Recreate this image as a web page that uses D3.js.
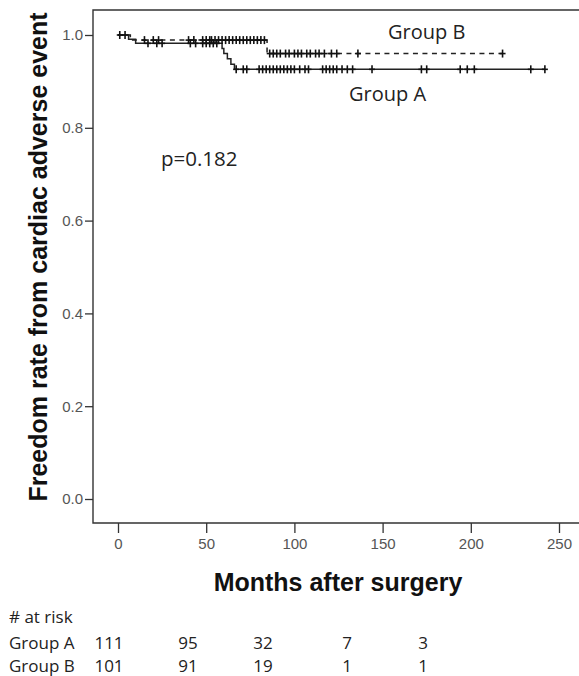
<!DOCTYPE html>
<html>
<head>
<meta charset="utf-8">
<script src="https://cdn.jsdelivr.net/npm/d3@7"></script>
<style>
  body { margin: 0; background: #fff; }
  svg { display: block; }
  .axis text { font-family: "Liberation Sans", Arial, sans-serif; font-size: 15px; fill: #555; }
  .axis line { stroke: #333; stroke-width: 1.3; }
  .lbl { font-family: "Open Sans", sans-serif; fill: #222; }
  .title { font-family: "Liberation Sans", Arial, sans-serif; font-weight: bold; font-size: 25px; fill: #111; }
</style>
</head>
<body>
<svg id="chart" width="579" height="676"></svg>
<script>
// Kaplan-Meier step values
const timesA = [0, 6, 10, 59, 60, 62, 64, 66];
const survA  = [1, 0.991, 0.982, 0.971, 0.960, 0.949, 0.937, 0.926];
const endA = 242;
const censorA = [1, 17, 22, 25, 41, 44, 48, 50, 52, 54, 56,
  67, 71, 73, 80, 82, 84, 86, 88, 90, 92, 94, 96, 98, 100, 103, 106, 108,
  116, 118, 120, 122, 124, 127, 130, 133, 144, 172, 175, 194, 198, 202, 234, 242];

const timesB = [0, 7, 84.5];
const survB  = [1, 0.989, 0.960];
const endB = 218;
const censorB = [4, 15, 20, 23, 40, 43, 48, 50, 52, 53, 55, 57, 59, 61, 63, 65, 67, 69,
  71, 73, 75, 77, 79, 81, 83, 86, 88, 90, 92, 95, 97, 100, 102, 104, 107, 109,
  112, 114, 117, 121, 124, 136, 218];

const xTicks = [0, 50, 100, 150, 200, 250];
const yTicks = [0, 0.2, 0.4, 0.6, 0.8, 1.0];

const riskGroups = ["Group A", "Group B"];
const atRiskA = [111, 95, 32, 7, 3];
const atRiskB = [101, 91, 19, 1, 1];

const svg = d3.select("#chart");

const x = d3.scaleLinear().domain([0, 250]).range([118, 559]);
const y = d3.scaleLinear().domain([0, 1]).range([499, 35]);

// frame (right side runs off the picture)
svg.append("path")
    .attr("d", "M579,10H93V523H579")
    .attr("fill", "none")
    .attr("stroke", "#333")
    .attr("stroke-width", 1.4);

const yAxis = svg.append("g")
    .attr("class", "axis")
    .attr("transform", "translate(93,0)")
    .call(d3.axisLeft(y).tickValues(yTicks).tickFormat(d3.format(".1f")).tickSize(8).tickPadding(2));
yAxis.select(".domain").remove();

const xAxis = svg.append("g")
    .attr("class", "axis")
    .attr("transform", "translate(0,523)")
    .call(d3.axisBottom(x).tickValues(xTicks).tickSize(10).tickPadding(5));
xAxis.select(".domain").remove();

function stepPts(times, surv, end) {
  let pts = times.map((t, i) => [t, surv[i]]);
  pts.push([end, surv[surv.length - 1]]);
  return pts;
}
function survAt(times, surv, t) {
  return surv[Math.max(0, d3.bisectRight(times, t) - 1)];
}

const line = d3.line()
    .x(d => x(d[0]))
    .y(d => y(d[1]))
    .curve(d3.curveStepAfter);

svg.append("path")
    .attr("d", line(stepPts(timesB, survB, endB)))
    .attr("fill", "none")
    .attr("stroke", "#222")
    .attr("stroke-width", 1.5)
    .attr("stroke-dasharray", "5,4.5");

svg.append("path")
    .attr("d", line(stepPts(timesA, survA, endA)))
    .attr("fill", "none")
    .attr("stroke", "#222")
    .attr("stroke-width", 1.5);

function drawCensor(list, times, surv) {
  const g = svg.append("g").attr("stroke", "#111").attr("stroke-width", 1.6);
  list.forEach(t => {
    const cx = x(t), cy = y(survAt(times, surv, t));
    g.append("line").attr("x1", cx).attr("x2", cx).attr("y1", cy - 4).attr("y2", cy + 4);
    g.append("line").attr("x1", cx - 3).attr("x2", cx + 3).attr("y1", cy).attr("y2", cy);
  });
}
drawCensor(censorA, timesA, survA);
drawCensor(censorB, timesB, survB);

// labels inside plot
svg.append("text").attr("class", "lbl").attr("x", 388).attr("y", 39)
    .style("font-size", "20px").text("Group B");
svg.append("text").attr("class", "lbl").attr("x", 349).attr("y", 101)
    .style("font-size", "20px").text("Group A");
svg.append("text").attr("class", "lbl").attr("x", 161).attr("y", 166)
    .style("font-size", "20.5px").text("p=0.182");

// axis titles
svg.append("text").attr("class", "title")
    .attr("x", 338).attr("y", 591)
    .attr("text-anchor", "middle")
    .text("Months after surgery");
svg.append("text").attr("class", "title")
    .attr("transform", "translate(47,257) rotate(-90)")
    .attr("text-anchor", "middle")
    .text("Freedom rate from cardiac adverse event");

// numbers at risk
const colX = [109, 188, 263, 347, 423];
const rowY = [649, 672];
svg.append("text").attr("class", "lbl").attr("x", 9).attr("y", 623)
    .style("font-size", "17px").text("# at risk");
[atRiskA, atRiskB].forEach((row, r) => {
  svg.append("text").attr("class", "lbl").attr("x", 9).attr("y", rowY[r])
      .style("font-size", "17px").text(riskGroups[r]);
  row.forEach((v, i) => {
    svg.append("text").attr("class", "lbl")
        .attr("x", colX[i]).attr("y", rowY[r])
        .attr("text-anchor", "middle")
        .style("font-size", "17px").text(v);
  });
});
</script>
</body>
</html>
